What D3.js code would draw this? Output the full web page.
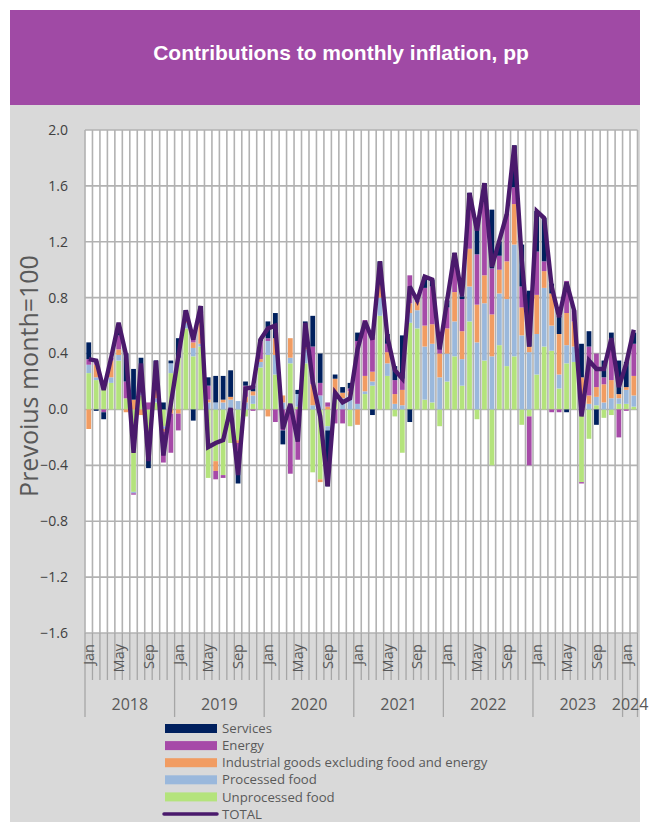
<!DOCTYPE html>
<html><head><meta charset="utf-8">
<script src="https://cdn.jsdelivr.net/npm/d3@7"></script>
<style>
html,body{margin:0;padding:0;background:#fff;}
svg{display:block;}
</style></head>
<body>
<svg id="chart" width="650" height="822"></svg>
<script>
const years = [2018,2019,2020,2021,2022,2023,2024];
const monthNames = ["Jan","Feb","Mar","Apr","May","Jun","Jul","Aug","Sep","Oct","Nov","Dec"];
const shownMonths = ["Jan","May","Sep"];
const yTicks = [2.0,1.6,1.2,0.8,0.4,0.0,-0.4,-0.8,-1.2,-1.6];

const unprocessedFood = [0.26,0.21,0.16,0.19,0.35,0.08,-0.59,0.10,-0.18,0.05,-0.12,0.26,
 0.37,0.58,0.38,0.45,-0.49,-0.37,-0.47,-0.24,-0.22,-0.05,0.04,0.30,
 0.39,0.25,0.00,0.33,0.02,0.33,-0.45,-0.50,-0.12,0.07,0.00,-0.12,
 0.00,0.11,0.17,0.67,0.24,-0.05,-0.31,0.62,0.58,0.07,0.05,-0.12,
 0.20,0.38,0.17,0.63,-0.07,0.35,-0.40,0.46,0.31,0.38,-0.11,-0.05,
 0.25,0.45,0.42,0.15,0.33,0.34,-0.52,-0.21,0.03,-0.06,-0.04,0.04,
 0.04,0.02];
const processedFood = [0.06,0.02,0.02,0.04,0.04,0.00,-0.01,0.02,-0.06,0.03,-0.02,0.07,
 0.00,0.04,0.06,0.02,0.05,0.05,0.05,0.07,0.06,0.05,0.06,0.04,
 0.10,0.14,0.05,0.04,0.09,0.10,0.03,0.10,-0.03,0.05,0.08,0.10,
 0.04,0.02,0.03,0.13,0.09,0.04,0.03,0.07,0.13,0.38,0.42,0.23,
 0.20,0.25,0.19,0.25,0.48,0.41,0.38,0.37,0.48,0.80,0.53,0.41,
 0.29,0.42,0.18,0.10,0.13,0.11,0.03,0.04,0.06,0.05,0.08,0.04,
 0.10,0.08];
const industrialGoods = [-0.14,0.09,0.02,0.12,0.04,-0.02,0.07,-0.04,-0.02,0.06,-0.02,-0.03,
 -0.03,0.03,0.04,0.17,0.02,-0.07,0.02,0.02,-0.02,0.04,0.03,0.02,
 -0.05,0.12,0.05,0.14,0.00,0.02,0.15,-0.02,0.02,0.10,0.04,0.03,
 -0.11,0.11,0.07,0.10,0.08,0.07,0.11,0.07,0.06,0.15,0.14,0.17,
 0.18,0.21,0.20,0.27,0.27,0.20,0.30,0.17,0.27,0.29,0.20,0.04,
 0.28,0.12,0.23,0.29,0.23,0.18,0.20,0.06,0.07,0.13,0.13,0.03,
 0.02,0.14];
const energy = [0.04,0.03,-0.02,0.02,0.10,0.12,-0.01,0.05,0.05,0.12,-0.22,-0.28,
 -0.12,0.03,0.08,0.05,0.10,-0.06,-0.02,0.00,-0.06,0.08,-0.01,0.13,
 0.02,-0.09,-0.15,-0.46,-0.36,0.00,0.27,0.09,0.03,-0.10,-0.10,0.02,
 0.45,0.40,0.25,0.10,0.06,0.10,0.08,0.20,0.01,0.27,0.27,0.12,
 0.15,0.27,0.23,0.38,0.36,0.64,0.33,0.10,0.34,0.12,0.15,-0.35,
 0.31,0.07,-0.02,-0.02,0.23,0.08,-0.01,0.35,0.24,0.05,0.22,-0.20,
 -0.01,0.23];
const services = [0.12,-0.01,-0.05,0.00,0.08,0.20,0.22,0.20,-0.16,0.09,0.05,0.02,
 0.14,0.03,-0.08,0.05,0.06,0.19,0.17,0.19,-0.23,0.03,0.04,0.01,
 0.12,0.18,-0.10,0.00,0.03,0.18,0.22,0.21,-0.40,0.03,0.04,0.04,
 0.06,0.00,-0.04,0.06,0.07,0.10,0.31,-0.09,0.00,0.08,0.05,0.03,
 0.05,0.01,0.02,0.02,0.22,0.02,0.42,0.10,0.00,0.30,0.30,0.40,
 0.29,0.31,0.07,0.13,-0.02,0.00,0.24,0.11,-0.11,0.12,0.12,0.24,
 0.18,0.08];
const total = [0.36,0.35,0.14,0.37,0.62,0.39,-0.31,0.33,-0.37,0.35,-0.33,0.04,
 0.38,0.71,0.50,0.74,-0.27,-0.24,-0.22,0.01,-0.47,0.15,0.16,0.50,
 0.58,0.60,-0.14,0.04,-0.23,0.62,0.20,-0.05,-0.55,0.12,0.05,0.08,
 0.43,0.63,0.50,1.06,0.52,0.28,0.22,0.88,0.78,0.95,0.93,0.43,
 0.78,1.12,0.81,1.55,1.28,1.62,1.02,1.21,1.40,1.89,1.07,0.45,
 1.42,1.37,0.88,0.66,0.91,0.71,-0.05,0.35,0.29,0.29,0.51,0.16,
 0.33,0.57];

const seriesKeys = ["Unprocessed food","Processed food","Industrial goods excluding food and energy","Energy","Services"];
const seriesValues = [unprocessedFood, processedFood, industrialGoods, energy, services];
const colors = {"Unprocessed food":"#b4e37c","Processed food":"#9ab8dc","Industrial goods excluding food and energy":"#f19c62","Energy":"#a64aa8","Services":"#00205e"};
const totalColor = "#4a1a6c";

const n = total.length;
const rows = d3.range(n).map(i => {
  const r = {i, year: years[0] + Math.floor(i/12), month: monthNames[i%12]};
  seriesKeys.forEach((k, s) => r[k] = seriesValues[s][i]);
  return r;
});

const svg = d3.select("#chart");
// frame
svg.append("rect").attr("x",10).attr("y",10).attr("width",630).attr("height",812).attr("fill","#d9d9d9");
svg.append("rect").attr("x",10).attr("y",10).attr("width",630).attr("height",95).attr("fill","#a04aa5");
svg.append("text").attr("x",341).attr("y",60).attr("text-anchor","middle")
  .attr("font-family","Liberation Sans, Arial, sans-serif").attr("font-weight","bold")
  .attr("font-size",21).attr("fill","#fff").text("Contributions to monthly inflation, pp");

const L = 85, R = 637.5, T = 130, B = 633;
const step = (R - L) / n;
const y = d3.scaleLinear().domain([-1.6, 2.0]).range([B, T]);
const cx = i => L + (i + 0.5) * step;

svg.append("rect").attr("x",L).attr("y",T).attr("width",R-L).attr("height",B-T).attr("fill","#fff");

const grid = svg.append("g").attr("stroke","#b2b2b2").attr("stroke-width",1.6);
d3.range(n+1).forEach(i => {
  const gx = L + i*step;
  grid.append("line").attr("x1",gx).attr("x2",gx).attr("y1",T).attr("y2",B);
});
yTicks.forEach(t => {
  grid.append("line").attr("x1",L).attr("x2",R).attr("y1",y(t)).attr("y2",y(t));
});

const fontAxis = "'Open Sans', 'Noto Sans', sans-serif";
svg.append("g").selectAll("text").data(yTicks).join("text")
  .attr("x",68).attr("y",d=>y(d)).attr("dy","0.35em").attr("text-anchor","end")
  .attr("font-family",fontAxis).attr("font-size",14).attr("fill","#404040")
  .text(d=>d3.format(".1f")(d));

svg.append("text").attr("transform",`translate(38,${376}) rotate(-90)`)
  .attr("text-anchor","middle").attr("font-family",fontAxis).attr("font-size",25).attr("fill","#595959")
  .text("Prevoius month=100");

// stacked bars
const stack = d3.stack().keys(seriesKeys).offset(d3.stackOffsetDiverging);
const stacked = stack(rows);
const barW = step * 0.64;
svg.append("g").selectAll("g").data(stacked).join("g").attr("fill", d => colors[d.key])
  .selectAll("rect").data(d => d).join("rect")
  .attr("x", d => cx(d.data.i) - barW/2)
  .attr("width", barW)
  .attr("y", d => y(Math.max(d[0], d[1])))
  .attr("height", d => Math.abs(y(d[0]) - y(d[1])));

// total line
const line = d3.line().x((d,i) => cx(i)).y(d => y(d));
svg.append("path").datum(total).attr("fill","none").attr("stroke",totalColor)
  .attr("stroke-width",4.4).attr("stroke-linejoin","miter").attr("stroke-miterlimit",3).attr("d", line);

// x axis ticks
const ax = svg.append("g").attr("stroke","#a6a6a6").attr("stroke-width",1.3);
d3.range(n+1).forEach(i => {
  const gx = L + i*step;
  const isYear = (i % 12 === 0) || i === n;
  ax.append("line").attr("x1",gx).attr("x2",gx).attr("y1",B).attr("y2", isYear ? 717 : 680);
});
svg.append("g").selectAll("text").data(rows.filter(r => shownMonths.includes(r.month))).join("text")
  .attr("transform", d => `translate(${cx(d.i)},644) rotate(-90)`)
  .attr("text-anchor","end").attr("dy","0.36em")
  .attr("font-family",fontAxis).attr("font-size",14.5).attr("fill","#595959")
  .text(d => d.month);
svg.append("g").selectAll("text").data(years).join("text")
  .attr("x", (d, k) => {
    const a = k*12, b = Math.min(n, (k+1)*12);
    return L + (a + b)/2*step;
  })
  .attr("y",710).attr("text-anchor","middle")
  .attr("font-family",fontAxis).attr("font-size",16).attr("fill","#595959")
  .text(d => d);

// legend
const legendItems = ["Services","Energy","Industrial goods excluding food and energy","Processed food","Unprocessed food","TOTAL"];
const lg = svg.append("g");
legendItems.forEach((k, j) => {
  const ly = 728.5 + j*17.1;
  if (k === "TOTAL") {
    lg.append("line").attr("x1",164).attr("x2",217).attr("y1",ly).attr("y2",ly)
      .attr("stroke",totalColor).attr("stroke-width",3.5).attr("stroke-linecap","round");
  } else {
    lg.append("rect").attr("x",165).attr("y",ly-4.5).attr("width",52).attr("height",9).attr("fill",colors[k]);
  }
  lg.append("text").attr("x",222).attr("y",ly).attr("dy","0.35em")
    .attr("font-family",fontAxis).attr("font-size",13.2).attr("fill","#595959").text(k);
});
</script>
</body></html>
